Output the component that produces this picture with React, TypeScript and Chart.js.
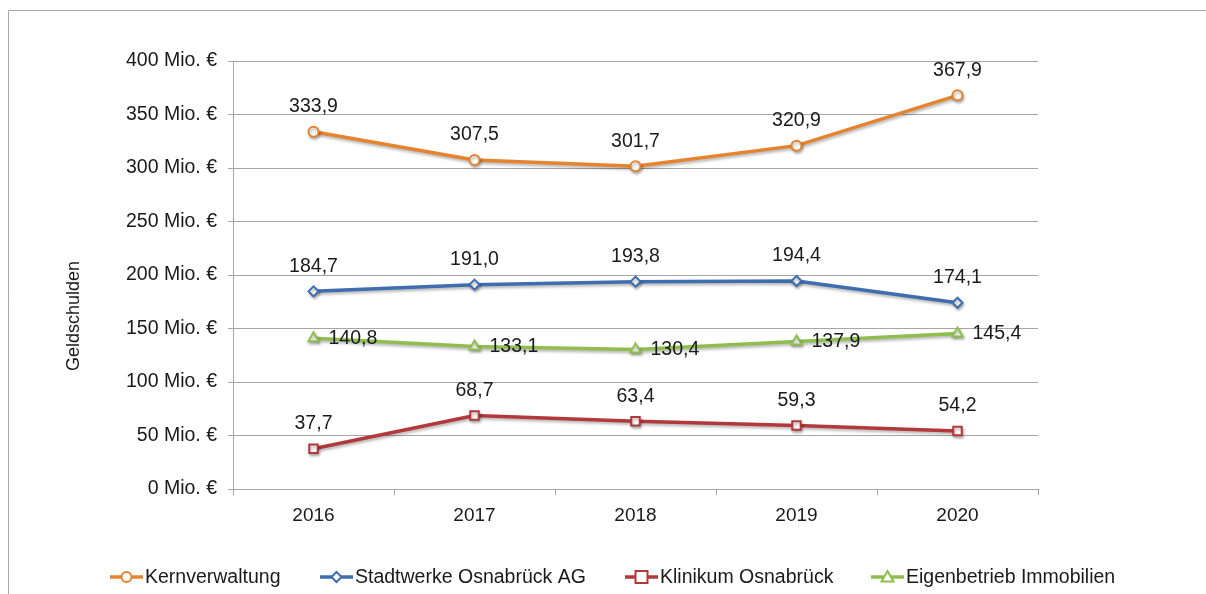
import React, { useEffect, useRef } from "react";
import { Chart, registerables } from "chart.js";

Chart.register(...registerables);

const years = ["2016", "2017", "2018", "2019", "2020"];
const kernverwaltung = [333.9, 307.5, 301.7, 320.9, 367.9];
const stadtwerke = [184.7, 191.0, 193.8, 194.4, 174.1];
const klinikum = [37.7, 68.7, 63.4, 59.3, 54.2];
const eigenbetrieb = [140.8, 133.1, 130.4, 137.9, 145.4];
const seriesNames = ["Kernverwaltung", "Stadtwerke Osnabrück AG", "Klinikum Osnabrück", "Eigenbetrieb Immobilien"];
const yTicks = [0, 50, 100, 150, 200, 250, 300, 350, 400];
const yTitle = "Geldschulden";

const COLORS = ["#E5832F", "#3E6DB0", "#B3383B", "#8FBE4E"];
const STYLES = ["circle", "rectRot", "rect", "triangle"];
const RADII = [5, 5, 6, 6];
const FONT = "'Liberation Sans', Arial, sans-serif";
const GRID = "#a6a6a6";
const TEXT = "#1a1a1a";

const fmt = (v: number) => v.toFixed(1).replace(".", ",");

function drawMarker(ctx: CanvasRenderingContext2D, style: string, x: number, y: number, r: number, color: string) {
  ctx.save();
  ctx.fillStyle = "#fff";
  ctx.strokeStyle = color;
  ctx.lineWidth = 2;
  ctx.beginPath();
  if (style === "circle") {
    ctx.arc(x, y, r, 0, Math.PI * 2);
  } else if (style === "rectRot") {
    ctx.moveTo(x, y - r);
    ctx.lineTo(x + r, y);
    ctx.lineTo(x, y + r);
    ctx.lineTo(x - r, y);
    ctx.closePath();
  } else if (style === "rect") {
    ctx.rect(x - r, y - r, 2 * r, 2 * r);
  } else {
    ctx.moveTo(x, y - r);
    ctx.lineTo(x + r, y + r * 0.75);
    ctx.lineTo(x - r, y + r * 0.75);
    ctx.closePath();
  }
  ctx.fill();
  ctx.stroke();
  ctx.restore();
}

const customPlugin = {
  id: "custom",
  beforeDatasetDraw(chart: any) {
    const ctx = chart.ctx;
    ctx.save();
    ctx.shadowColor = "rgba(0,0,0,0.3)";
    ctx.shadowBlur = 3;
    ctx.shadowOffsetX = 1;
    ctx.shadowOffsetY = 2;
  },
  afterDatasetDraw(chart: any) {
    chart.ctx.restore();
  },
  afterDraw(chart: any) {
    const ctx: CanvasRenderingContext2D = chart.ctx;
    // outer frame
    ctx.save();
    ctx.strokeStyle = GRID;
    ctx.lineWidth = 1;
    ctx.beginPath();
    ctx.moveTo(8.5, 594);
    ctx.lineTo(8.5, 10.5);
    ctx.lineTo(1206, 10.5);
    ctx.stroke();
    ctx.restore();

    // y title
    ctx.save();
    ctx.fillStyle = TEXT;
    ctx.font = `18px ${FONT}`;
    ctx.translate(74, 316);
    ctx.rotate(-Math.PI / 2);
    ctx.textAlign = "center";
    ctx.textBaseline = "middle";
    ctx.fillText(yTitle, 0, 0);
    ctx.restore();

    // data labels
    ctx.save();
    ctx.fillStyle = TEXT;
    ctx.font = `19.5px ${FONT}`;
    ctx.textBaseline = "middle";
    chart.data.datasets.forEach((ds: any, i: number) => {
      const meta = chart.getDatasetMeta(i);
      meta.data.forEach((pt: any, j: number) => {
        const txt = fmt(ds.data[j]);
        if (i === 3) {
          ctx.textAlign = "left";
          ctx.fillText(txt, pt.x + 15, pt.y);
        } else {
          ctx.textAlign = "center";
          ctx.fillText(txt, pt.x, pt.y - 25);
        }
      });
    });
    ctx.restore();

    // legend
    const legendX = [110, 320, 625, 871];
    const ly = 577;
    ctx.save();
    ctx.font = `19.5px ${FONT}`;
    ctx.textBaseline = "middle";
    ctx.textAlign = "left";
    seriesNames.forEach((name, i) => {
      const x0 = legendX[i];
      ctx.strokeStyle = COLORS[i];
      ctx.lineWidth = 3.5;
      ctx.beginPath();
      ctx.moveTo(x0, ly);
      ctx.lineTo(x0 + 33, ly);
      ctx.stroke();
      drawMarker(ctx, STYLES[i], x0 + 16.5, ly, RADII[i], COLORS[i]);
      ctx.fillStyle = TEXT;
      ctx.fillText(name, x0 + 35, ly + 1);
    });
    ctx.restore();
  },
};

export default function App() {
  const ref = useRef<HTMLCanvasElement | null>(null);
  useEffect(() => {
    if (!ref.current) return;
    const data = [kernverwaltung, stadtwerke, klinikum, eigenbetrieb];
    const chart = new Chart(ref.current, {
      type: "line",
      data: {
        labels: years,
        datasets: data.map((d, i) => ({
          label: seriesNames[i],
          data: d,
          borderColor: COLORS[i],
          backgroundColor: "#ffffff",
          borderWidth: 3.5,
          pointStyle: STYLES[i] as any,
          pointRadius: RADII[i],
          pointBorderWidth: 2,
          pointBorderColor: COLORS[i],
          pointBackgroundColor: "#ffffff",
          tension: 0,
        })),
      },
      options: {
        responsive: false,
        animation: false,
        layout: { padding: { top: 61, right: 168, bottom: 65, left: 0 } },
        plugins: { legend: { display: false }, tooltip: { enabled: false } },
        scales: {
          x: {
            offset: true,
            grid: { drawOnChartArea: false, offset: true, color: GRID, tickLength: 6 },
            border: { color: GRID },
            ticks: { font: { size: 19, family: FONT }, color: TEXT, padding: 9 },
            afterFit: (s: any) => { s.height = 40; },
          },
          y: {
            min: 0,
            max: 400,
            afterBuildTicks: (s: any) => { s.ticks = yTicks.map((v) => ({ value: v })); },
            grid: { color: GRID, tickLength: 5 },
            border: { color: GRID },
            ticks: {
              font: { size: 19.5, family: FONT },
              color: TEXT,
              padding: 11,
              callback: (v: any) => `${v} Mio. €`,
            },
            afterFit: (s: any) => { s.width = 233; },
          },
        },
      },
      plugins: [customPlugin],
    });
    return () => chart.destroy();
  }, []);
  return (
    <div style={{ position: "absolute", left: 0, top: 0, width: 1206, height: 594, background: "#fff" }}>
      <canvas ref={ref} width={1206} height={594} style={{ width: 1206, height: 594 }} />
    </div>
  );
}
